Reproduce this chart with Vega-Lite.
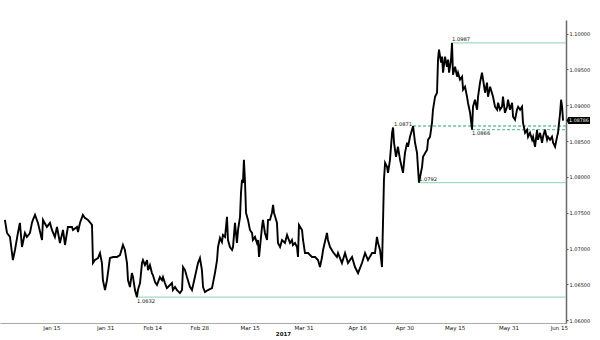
{
  "$schema": "https://vega.github.io/schema/vega-lite/v6.json",
  "width": 566,
  "height": 303,
  "autosize": {"type": "none"},
  "padding": {"left": 0, "top": 20, "right": 34, "bottom": 17},
  "background": "white",
  "config": {"view": {"stroke": null}, "font": "DejaVu Sans"},
  "datasets": {
    "prices": [
      {"date":"2017-01-01T04:00","price":1.07399},{"date":"2017-01-01T19:00","price":1.07217},{"date":"2017-01-02T16:00","price":1.07161},{"date":"2017-01-03T13:00","price":1.06839},{"date":"2017-01-04T04:00","price":1.06979},{"date":"2017-01-05T01:00","price":1.07217},{"date":"2017-01-05T15:00","price":1.07357},{"date":"2017-01-06T06:00","price":1.07021},{"date":"2017-01-07T03:00","price":1.07217},{"date":"2017-01-07T17:00","price":1.07161},{"date":"2017-01-08T15:00","price":1.07217},{"date":"2017-01-09T05:00","price":1.07357},{"date":"2017-01-09T12:00","price":1.07399},{"date":"2017-01-10T03:00","price":1.07469},{"date":"2017-01-11T00:00","price":1.07357},{"date":"2017-01-12T05:00","price":1.07119},{"date":"2017-01-12T12:00","price":1.07399},{"date":"2017-01-13T16:00","price":1.07301},{"date":"2017-01-14T14:00","price":1.07357},{"date":"2017-01-15T04:00","price":1.07259},{"date":"2017-01-16T01:00","price":1.07161},{"date":"2017-01-16T16:00","price":1.07301},{"date":"2017-01-17T13:00","price":1.07077},{"date":"2017-01-18T11:00","price":1.07259},{"date":"2017-01-19T01:00","price":1.07049},{"date":"2017-01-19T22:00","price":1.07301},{"date":"2017-01-21T03:00","price":1.07301},{"date":"2017-01-21T10:00","price":1.07259},{"date":"2017-01-22T15:00","price":1.07301},{"date":"2017-01-22T22:00","price":1.07231},{"date":"2017-01-23T12:00","price":1.07357},{"date":"2017-01-24T09:00","price":1.07469},{"date":"2017-01-24T23:00","price":1.07427},{"date":"2017-01-25T21:00","price":1.07399},{"date":"2017-01-27T02:00","price":1.07329},{"date":"2017-01-27T09:00","price":1.06797},{"date":"2017-01-27T23:00","price":1.06839},{"date":"2017-01-28T21:00","price":1.06867},{"date":"2017-01-29T11:00","price":1.06937},{"date":"2017-01-30T01:00","price":1.06797},{"date":"2017-01-30T08:00","price":1.06559},{"date":"2017-01-30T23:00","price":1.0642},{"date":"2017-01-31T13:00","price":1.06559},
      {"date":"2017-02-01T10:00","price":1.06867},{"date":"2017-02-02T08:00","price":1.06881},{"date":"2017-02-03T12:00","price":1.06881},{"date":"2017-02-04T10:00","price":1.06909},{"date":"2017-02-05T07:00","price":1.07049},{"date":"2017-02-05T21:00","price":1.06979},{"date":"2017-02-06T12:00","price":1.06797},{"date":"2017-02-06T19:00","price":1.06559},{"date":"2017-02-07T09:00","price":1.06462},{"date":"2017-02-07T23:00","price":1.06657},{"date":"2017-02-08T07:00","price":1.06601},{"date":"2017-02-08T21:00","price":1.0642},{"date":"2017-02-09T11:00","price":1.0632},{"date":"2017-02-09T18:00","price":1.0642},{"date":"2017-02-10T09:00","price":1.06517},{"date":"2017-02-10T23:00","price":1.06797},{"date":"2017-02-11T06:00","price":1.06839},{"date":"2017-02-11T20:00","price":1.06769},{"date":"2017-02-12T11:00","price":1.06839},{"date":"2017-02-12T18:00","price":1.06699},{"date":"2017-02-13T08:00","price":1.06769},{"date":"2017-02-13T22:00","price":1.06657},{"date":"2017-02-14T05:00","price":1.06629},{"date":"2017-02-14T20:00","price":1.06531},{"date":"2017-02-15T10:00","price":1.0649},{"date":"2017-02-16T07:00","price":1.06601},{"date":"2017-02-16T22:00","price":1.06559},{"date":"2017-02-17T05:00","price":1.06601},{"date":"2017-02-17T19:00","price":1.06517},{"date":"2017-02-18T09:00","price":1.06448},{"date":"2017-02-18T17:00","price":1.06462},{"date":"2017-02-19T21:00","price":1.06517},{"date":"2017-02-20T04:00","price":1.0642},{"date":"2017-02-20T19:00","price":1.06462},{"date":"2017-02-21T09:00","price":1.0642},{"date":"2017-02-22T06:00","price":1.06378},{"date":"2017-02-22T21:00","price":1.0642},{"date":"2017-02-23T04:00","price":1.06741},{"date":"2017-02-23T18:00","price":1.06699},{"date":"2017-02-24T08:00","price":1.06601},{"date":"2017-02-25T06:00","price":1.06462},{"date":"2017-02-25T20:00","price":1.0642},{"date":"2017-02-26T17:00","price":1.06601},{"date":"2017-02-27T15:00","price":1.06797},{"date":"2017-02-28T05:00","price":1.06867},{"date":"2017-02-28T19:00","price":1.06699},
      {"date":"2017-03-01T03:00","price":1.06462},{"date":"2017-03-01T17:00","price":1.06392},{"date":"2017-03-02T14:00","price":1.0642},{"date":"2017-03-03T19:00","price":1.06448},{"date":"2017-03-04T02:00","price":1.06517},{"date":"2017-03-04T16:00","price":1.06657},{"date":"2017-03-05T07:00","price":1.06839},{"date":"2017-03-05T14:00","price":1.07021},{"date":"2017-03-06T04:00","price":1.07147},{"date":"2017-03-06T18:00","price":1.07091},{"date":"2017-03-07T01:00","price":1.07189},{"date":"2017-03-07T16:00","price":1.07161},{"date":"2017-03-08T06:00","price":1.07441},{"date":"2017-03-08T13:00","price":1.07119},{"date":"2017-03-09T03:00","price":1.07021},{"date":"2017-03-09T18:00","price":1.06979},{"date":"2017-03-10T01:00","price":1.07021},{"date":"2017-03-10T15:00","price":1.07357},{"date":"2017-03-11T05:00","price":1.07077},{"date":"2017-03-11T13:00","price":1.07259},{"date":"2017-03-12T03:00","price":1.07441},{"date":"2017-03-12T10:00","price":1.07776},{"date":"2017-03-12T17:00","price":1.07958},{"date":"2017-03-13T00:00","price":1.07916},{"date":"2017-03-13T07:00","price":1.08238},{"date":"2017-03-13T15:00","price":1.07916},{"date":"2017-03-13T22:00","price":1.07497},{"date":"2017-03-14T12:00","price":1.07399},{"date":"2017-03-15T02:00","price":1.07259},{"date":"2017-03-15T17:00","price":1.07217},{"date":"2017-03-15T23:00","price":1.07119},{"date":"2017-03-16T14:00","price":1.07161},{"date":"2017-03-17T04:00","price":1.07077},{"date":"2017-03-17T11:00","price":1.07119},{"date":"2017-03-17T19:00","price":1.06881},{"date":"2017-03-18T16:00","price":1.07301},{"date":"2017-03-18T23:00","price":1.07399},{"date":"2017-03-19T13:00","price":1.07217},{"date":"2017-03-20T04:00","price":1.07119},{"date":"2017-03-20T11:00","price":1.07399},{"date":"2017-03-21T01:00","price":1.07399},{"date":"2017-03-21T15:00","price":1.07497},{"date":"2017-03-21T23:00","price":1.07608},{"date":"2017-03-22T06:00","price":1.07497},{"date":"2017-03-23T03:00","price":1.07357},{"date":"2017-03-23T10:00","price":1.07077},{"date":"2017-03-24T01:00","price":1.07021},{"date":"2017-03-24T15:00","price":1.07119},{"date":"2017-03-25T12:00","price":1.07077},{"date":"2017-03-26T03:00","price":1.07189},{"date":"2017-03-27T00:00","price":1.07077},{"date":"2017-03-27T14:00","price":1.07119},{"date":"2017-03-27T21:00","price":1.07049},{"date":"2017-03-28T12:00","price":1.07077},{"date":"2017-03-29T02:00","price":1.07021},{"date":"2017-03-29T09:00","price":1.06881},{"date":"2017-03-29T16:00","price":1.07329},{"date":"2017-03-30T14:00","price":1.07259},{"date":"2017-03-30T21:00","price":1.07119},{"date":"2017-03-31T11:00","price":1.06937},
      {"date":"2017-04-01T09:00","price":1.06937},{"date":"2017-04-02T13:00","price":1.06881},{"date":"2017-04-03T11:00","price":1.06881},{"date":"2017-04-04T08:00","price":1.06839},{"date":"2017-04-04T22:00","price":1.06741},{"date":"2017-04-05T13:00","price":1.06881},{"date":"2017-04-05T20:00","price":1.06979},{"date":"2017-04-07T00:00","price":1.07217},{"date":"2017-04-07T07:00","price":1.07119},{"date":"2017-04-07T22:00","price":1.07021},{"date":"2017-04-08T19:00","price":1.06951},{"date":"2017-04-09T23:00","price":1.06881},{"date":"2017-04-10T07:00","price":1.06937},{"date":"2017-04-11T11:00","price":1.06797},{"date":"2017-04-12T09:00","price":1.06937},{"date":"2017-04-13T06:00","price":1.06797},{"date":"2017-04-14T11:00","price":1.06881},{"date":"2017-04-15T08:00","price":1.06741},{"date":"2017-04-16T06:00","price":1.06657},{"date":"2017-04-17T10:00","price":1.06797},{"date":"2017-04-18T08:00","price":1.06937},{"date":"2017-04-19T05:00","price":1.06839},{"date":"2017-04-20T10:00","price":1.06937},{"date":"2017-04-21T07:00","price":1.06937},{"date":"2017-04-21T21:00","price":1.07161},{"date":"2017-04-22T05:00","price":1.07077},{"date":"2017-04-22T19:00","price":1.06979},{"date":"2017-04-23T09:00","price":1.06741},{"date":"2017-04-23T23:00","price":1.07958},{"date":"2017-04-24T07:00","price":1.08196},{"date":"2017-04-24T21:00","price":1.0814},{"date":"2017-04-25T04:00","price":1.08056},{"date":"2017-04-25T18:00","price":1.08238},{"date":"2017-04-26T09:00","price":1.08615},{"date":"2017-04-26T16:00","price":1.0869},{"date":"2017-04-26T23:00","price":1.08476},{"date":"2017-04-27T13:00","price":1.0828},{"date":"2017-04-28T03:00","price":1.0842},{"date":"2017-04-28T18:00","price":1.08238},{"date":"2017-04-29T15:00","price":1.08056},{"date":"2017-04-30T05:00","price":1.08336},{"date":"2017-04-30T20:00","price":1.08476},
      {"date":"2017-05-01T03:00","price":1.0842},{"date":"2017-05-01T17:00","price":1.08559},{"date":"2017-05-02T15:00","price":1.0871},{"date":"2017-05-03T05:00","price":1.08476},{"date":"2017-05-03T19:00","price":1.08336},{"date":"2017-05-04T09:00","price":1.0792},{"date":"2017-05-04T17:00","price":1.08},{"date":"2017-05-05T07:00","price":1.0814},{"date":"2017-05-05T14:00","price":1.0828},{"date":"2017-05-06T19:00","price":1.08378},{"date":"2017-05-07T02:00","price":1.08517},{"date":"2017-05-07T16:00","price":1.08559},{"date":"2017-05-08T06:00","price":1.08755},{"date":"2017-05-08T13:00","price":1.08937},{"date":"2017-05-09T04:00","price":1.09119},{"date":"2017-05-09T18:00","price":1.09175},{"date":"2017-05-10T01:00","price":1.09636},{"date":"2017-05-10T08:00","price":1.09776},{"date":"2017-05-10T23:00","price":1.09594},{"date":"2017-05-11T06:00","price":1.09678},{"date":"2017-05-11T13:00","price":1.09455},{"date":"2017-05-12T03:00","price":1.09678},{"date":"2017-05-12T17:00","price":1.09538},{"date":"2017-05-13T01:00","price":1.09636},{"date":"2017-05-13T08:00","price":1.09455},{"date":"2017-05-13T22:00","price":1.09636},{"date":"2017-05-14T05:00","price":1.0987},{"date":"2017-05-14T12:00","price":1.09427},{"date":"2017-05-15T03:00","price":1.09538},{"date":"2017-05-15T17:00","price":1.09399},{"date":"2017-05-16T00:00","price":1.09455},{"date":"2017-05-16T14:00","price":1.09357},{"date":"2017-05-17T05:00","price":1.09399},{"date":"2017-05-17T12:00","price":1.09217},{"date":"2017-05-18T02:00","price":1.09259},{"date":"2017-05-18T16:00","price":1.09119},{"date":"2017-05-18T23:00","price":1.09035},{"date":"2017-05-19T14:00","price":1.08895},{"date":"2017-05-20T04:00","price":1.0866},{"date":"2017-05-20T11:00","price":1.08979},{"date":"2017-05-21T01:00","price":1.09077},{"date":"2017-05-21T16:00","price":1.08937},{"date":"2017-05-21T23:00","price":1.09119},{"date":"2017-05-22T13:00","price":1.09315},{"date":"2017-05-23T03:00","price":1.09455},{"date":"2017-05-23T11:00","price":1.09357},{"date":"2017-05-24T01:00","price":1.09175},{"date":"2017-05-24T15:00","price":1.09315},{"date":"2017-05-24T22:00","price":1.09119},{"date":"2017-05-25T13:00","price":1.09259},{"date":"2017-05-26T10:00","price":1.09119},{"date":"2017-05-27T00:00","price":1.08979},{"date":"2017-05-27T15:00","price":1.08937},{"date":"2017-05-27T22:00","price":1.09035},{"date":"2017-05-28T12:00","price":1.08937},{"date":"2017-05-29T02:00","price":1.08979},{"date":"2017-05-29T09:00","price":1.09119},{"date":"2017-05-29T23:00","price":1.08895},{"date":"2017-05-30T14:00","price":1.08979},{"date":"2017-05-30T21:00","price":1.09077},{"date":"2017-05-31T11:00","price":1.08937},
      {"date":"2017-06-01T02:00","price":1.09035},{"date":"2017-06-01T09:00","price":1.08839},{"date":"2017-06-01T23:00","price":1.08797},{"date":"2017-06-02T13:00","price":1.08937},{"date":"2017-06-02T21:00","price":1.08979},{"date":"2017-06-03T11:00","price":1.08937},{"date":"2017-06-04T01:00","price":1.08979},{"date":"2017-06-04T08:00","price":1.08755},{"date":"2017-06-04T23:00","price":1.08615},{"date":"2017-06-05T13:00","price":1.08657},{"date":"2017-06-05T20:00","price":1.08559},{"date":"2017-06-06T10:00","price":1.08615},{"date":"2017-06-07T01:00","price":1.08517},{"date":"2017-06-07T08:00","price":1.08559},{"date":"2017-06-07T22:00","price":1.0842},{"date":"2017-06-08T12:00","price":1.08657},{"date":"2017-06-08T19:00","price":1.08517},{"date":"2017-06-09T10:00","price":1.08615},{"date":"2017-06-10T00:00","price":1.08476},{"date":"2017-06-10T07:00","price":1.08559},{"date":"2017-06-10T21:00","price":1.08657},{"date":"2017-06-11T12:00","price":1.08517},{"date":"2017-06-11T19:00","price":1.08559},{"date":"2017-06-12T09:00","price":1.08517},{"date":"2017-06-12T23:00","price":1.08559},{"date":"2017-06-13T07:00","price":1.08476},{"date":"2017-06-13T21:00","price":1.0842},{"date":"2017-06-14T11:00","price":1.08559},{"date":"2017-06-14T18:00","price":1.08615},{"date":"2017-06-15T09:00","price":1.08895},{"date":"2017-06-15T16:00","price":1.09077},{"date":"2017-06-15T23:00","price":1.08979},{"date":"2017-06-16T06:00","price":1.08786}
    ],
    "levels": [
      {"date":"2017-05-14T05:00","end":"2017-06-17T03:00","price":1.0987,"label":"1.0987","style":"solid","pos":"above"},
      {"date":"2017-05-02T15:00","end":"2017-06-17T03:00","price":1.0871,"label":"1.0871","style":"dashed","pos":"left"},
      {"date":"2017-05-20T04:00","end":"2017-06-17T03:00","price":1.0866,"label":"1.0866","style":"dashed","pos":"below"},
      {"date":"2017-05-04T09:00","end":"2017-06-17T03:00","price":1.0792,"label":"1.0792","style":"solid","pos":"above"},
      {"date":"2017-02-09T11:00","end":"2017-06-17T03:00","price":1.0632,"label":"1.0632","style":"solid","pos":"below"}
    ],
    "last": [{"date":"2017-06-16T06:00","price":1.08786,"label":"1.08786"}]
  },
  "encoding": {
    "x": {"field": "date", "type": "temporal",
          "scale": {"domain": [{"year":2016,"month":12,"date":30,"hours":17},{"year":2017,"month":6,"date":17,"hours":3}]},
          "axis": {
            "values": [{"year":2017,"month":1,"date":15},{"year":2017,"month":1,"date":31},{"year":2017,"month":2,"date":14},{"year":2017,"month":2,"date":28},{"year":2017,"month":3,"date":15},{"year":2017,"month":3,"date":31},{"year":2017,"month":4,"date":16},{"year":2017,"month":4,"date":30},{"year":2017,"month":5,"date":15},{"year":2017,"month":5,"date":31},{"year":2017,"month":6,"date":15}],
            "format": "%b %d", "labelFont": "DejaVu Sans", "labelFontSize": 5.5, "labelColor": "#111111",
            "ticks": false, "grid": false, "domainColor": "#a8a8a8", "domainWidth": 1,
            "labelPadding": 2, "labelOverlap": false, "labelFlush": false,
            "title": "2017", "titleFont": "DejaVu Sans", "titleFontSize": 5.5, "titleFontWeight": "bold", "titleColor": "#111111", "titlePadding": 1
          }},
    "y": {"field": "price", "type": "quantitative",
          "scale": {"domain": [1.0596, 1.1019], "zero": false, "nice": false},
          "axis": {
            "orient": "right", "values": [1.06, 1.065, 1.07, 1.075, 1.08, 1.085, 1.09, 1.095, 1.1],
            "format": ".5f", "labelFont": "DejaVu Sans", "labelFontSize": 5, "labelColor": "#111111",
            "tickSize": 2, "tickColor": "#555555", "domainColor": "#6a6a6a", "domainWidth": 1.5,
            "labelPadding": 1, "grid": false, "title": null
          }}
  },
  "layer": [
    {
      "data": {"name": "levels"},
      "mark": {"type": "rule", "strokeWidth": 1.3},
      "encoding": {
        "x2": {"field": "end"},
        "color": {"field": "style", "type": "nominal", "legend": null, "scale": {"domain": ["solid", "dashed"], "range": ["#a3d9c3", "#6fbfa5"]}},
        "strokeDash": {"field": "style", "type": "nominal", "legend": null, "scale": {"domain": ["solid", "dashed"], "range": [[1, 0], [3, 2]]}}
      }
    },
    {
      "data": {"name": "prices"},
      "mark": {"type": "line", "color": "#000000", "strokeWidth": 1.9, "strokeJoin": "miter"},
      "encoding": {}
    },
    {
      "data": {"name": "levels"},
      "transform": [{"filter": "datum.pos === 'above'"}],
      "mark": {"type": "text", "align": "left", "baseline": "bottom", "dy": -0.5, "fontSize": 5.2, "color": "#111111"},
      "encoding": {"text": {"field": "label"}}
    },
    {
      "data": {"name": "levels"},
      "transform": [{"filter": "datum.pos === 'below'"}],
      "mark": {"type": "text", "align": "left", "baseline": "top", "dy": 1.5, "fontSize": 5.2, "color": "#111111"},
      "encoding": {"text": {"field": "label"}}
    },
    {
      "data": {"name": "levels"},
      "transform": [{"filter": "datum.pos === 'left'"}],
      "mark": {"type": "text", "align": "right", "baseline": "bottom", "dx": -1, "dy": 0.5, "fontSize": 5.2, "color": "#111111"},
      "encoding": {"text": {"field": "label"}}
    },
    {
      "data": {"name": "last"},
      "mark": {"type": "point", "filled": true, "color": "#000000", "opacity": 1, "size": 49, "shape": "M1,0L1.5,-1L7.7,-1L7.7,1L1.5,1Z"},
      "encoding": {}
    },
    {
      "data": {"name": "last"},
      "mark": {"type": "text", "align": "left", "baseline": "middle", "dx": 6, "fontSize": 4.8, "color": "#ffffff"},
      "encoding": {"text": {"field": "label"}}
    }
  ]
}
